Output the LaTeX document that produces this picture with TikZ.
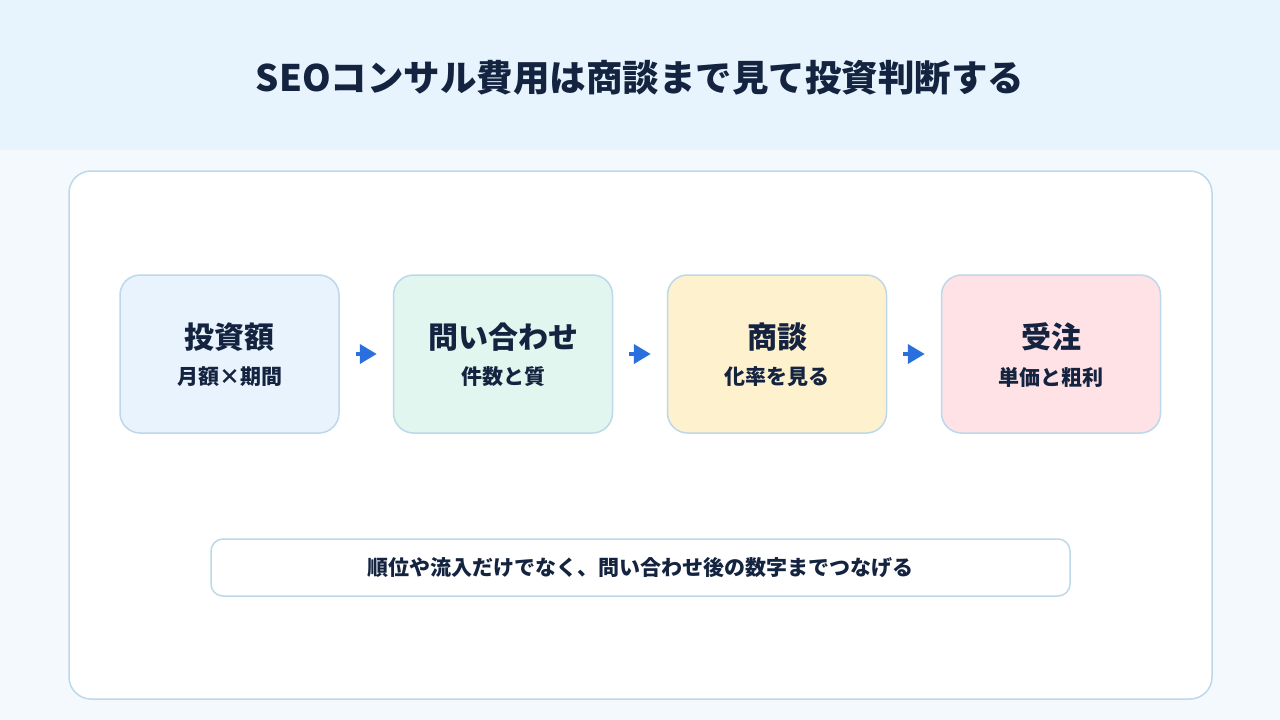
\documentclass[tikz,border=0pt]{standalone}
\usepackage{fontspec}
\setmainfont{Noto Sans CJK JP}
\usetikzlibrary{arrows.meta}
\definecolor{pagebg}{HTML}{F4F9FD}
\definecolor{headbg}{HTML}{E7F4FD}
\definecolor{edge}{HTML}{BCD8EA}
\definecolor{ink}{HTML}{14233F}
\definecolor{arrowc}{HTML}{2A6FDE}
\definecolor{cblue}{HTML}{E8F3FD}
\definecolor{cgreen}{HTML}{E0F6EF}
\definecolor{cyellow}{HTML}{FEF1CE}
\definecolor{cpink}{HTML}{FEE2E6}
\tikzset{
  stepbox/.style={draw=edge, line width=1.5pt, rounded corners=20pt, minimum width=219pt, minimum height=158pt, inner sep=0pt, align=center, text=ink},
  flow/.style={draw=arrowc, line width=4pt, -{Triangle[length=17pt,width=19pt]}, shorten <=16pt, shorten >=16pt},
  boxtitle/.style={font=\bfseries\fontsize{30}{34}\selectfont},
  boxsub/.style={font=\bfseries\fontsize{21}{24}\selectfont}
}
\begin{document}
\begin{tikzpicture}[x=1pt,y=-1pt]
\useasboundingbox (0,0) rectangle (1280,720);
\fill[pagebg] (0,0) rectangle (1280,720);
\fill[headbg] (0,0) rectangle (1280,150);
\node[text=ink, font=\bfseries\fontsize{36.5}{42}\selectfont] (title) at (640,78) {SEOコンサル費用は商談まで見て投資判断する};
\node[draw=edge, fill=white, line width=1.5pt, rounded corners=22pt, minimum width=1143pt, minimum height=528pt, inner sep=0pt] (panel) at (640.5,435) {};
\node[stepbox, fill=cblue] (b1) at (229.5,354) {};
\node[stepbox, fill=cgreen] (b2) at (503,354) {};
\node[stepbox, fill=cyellow] (b3) at (777,354) {};
\node[stepbox, fill=cpink] (b4) at (1051,354) {};
\foreach \n/\t/\s in {b1/投資額/月額×期間, b2/問い合わせ/件数と質, b3/商談/化率を見る, b4/受注/単価と粗利}{
  \node[boxtitle, text=ink] (\n t) at ([yshift=17pt]\n.center) {\t};
  \node[boxsub, text=ink] (\n s) at ([yshift=-23pt]\n.center) {\s};
}
\draw[flow] (b1) -- (b2);
\draw[flow] (b2) -- (b3);
\draw[flow] (b3) -- (b4);
\node[draw=edge, fill=white, line width=1.5pt, rounded corners=12pt, minimum width=859pt, minimum height=57pt, inner sep=0pt, text=ink, font=\bfseries\fontsize{21}{24}\selectfont] (note) at (640.5,567.5) {順位や流入だけでなく、問い合わせ後の数字までつなげる};
\end{tikzpicture}
\end{document}
